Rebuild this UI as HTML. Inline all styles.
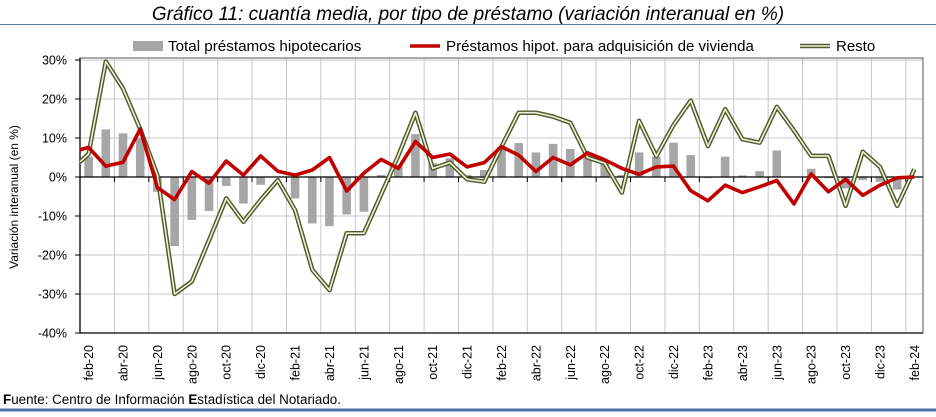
<!DOCTYPE html>
<html><head><meta charset="utf-8">
<style>
html,body{margin:0;padding:0;background:#fff;}
body{width:936px;height:412px;overflow:hidden;font-family:"Liberation Sans",sans-serif;}
</style></head>
<body>
<svg id="c" width="936" height="412" xmlns="http://www.w3.org/2000/svg" font-family="Liberation Sans, sans-serif"></svg>
<script>
const red=[7.6,2.8,3.8,12.3,-2.7,-5.8,1.4,-1.6,4.1,0.5,5.4,1.5,0.5,1.8,5.0,-3.6,1.0,4.5,2.2,9.1,5.0,5.9,2.6,3.7,7.8,5.6,1.4,5.0,3.1,6.2,4.4,2.2,0.7,2.6,2.8,-3.5,-6.1,-2.1,-4.0,-2.5,-0.9,-6.9,0.8,-3.8,-0.6,-4.7,-2.1,-0.2,0];
const resto=[5.9,29.6,22.7,12.3,0.5,-30.0,-26.8,-16.2,-5.5,-11.5,-5.9,-0.8,-8.5,-23.8,-29.0,-14.4,-14.4,-4.5,5.5,16.5,2.2,3.7,-0.6,-1.2,7.8,16.5,16.5,15.5,13.9,5.0,3.5,-4.0,14.4,5.3,13.3,19.6,7.9,17.4,9.7,8.8,18.0,11.9,5.4,5.4,-7.4,6.5,2.6,-7.4,2.0];
const bars=[5.2,12.2,11.2,10,-3.8,-17.7,-11,-8.7,-2.3,-6.8,-2,0,-5.5,-11.9,-12.6,-9.6,-8.9,0.5,3.1,11.0,3.5,4.8,0.5,1.8,7.8,8.7,6.3,8.5,7.2,5.4,3.5,0.5,6.3,5.2,8.8,5.6,-0.3,5.2,0.4,1.5,6.8,0,2.1,-0.3,-2.9,-0.8,-1.2,-3.2,0];
const X0=80,X1=923,W=(X1-X0)/49;
const cx=i=>X0+W*(i+0.5), cy=v=>177-v*3.9;
let s='';
s+='<text x="468" y="20" font-size="19" font-style="italic" text-anchor="middle" fill="#000">Gráfico 11: cuantía media, por tipo de préstamo (variación interanual en %)</text>';
s+='<line x1="0" y1="24.5" x2="936" y2="24.5" stroke="#5b7fa6" stroke-width="1"/>';
for(let v=-40;v<=30;v+=10){const y=cy(v);s+=`<line x1="${X0}" y1="${y}" x2="${X1}" y2="${y}" stroke="#c8c8c8" stroke-width="1"/>`;}
for(let k=2;k<49;k+=2){const x=X0+W*k;s+=`<line x1="${x}" y1="58" x2="${x}" y2="333" stroke="#c8c8c8" stroke-width="1"/>`;}
s+=`<rect x="${X0}" y="58" width="${X1-X0}" height="275" fill="none" stroke="#555" stroke-width="1"/>`;
bars.forEach((v,i)=>{const y=Math.min(cy(v),177),h=Math.abs(v*3.9);s+=`<rect x="${cx(i)-4.3}" y="${y}" width="8.6" height="${h}" fill="#a6a6a6"/>`;});
s+=`<line x1="${X0}" y1="177" x2="${X1}" y2="177" stroke="#000" stroke-width="1.3"/>`;
for(let k=0;k<=49;k+=2){const x=X0+W*k;s+=`<line x1="${x}" y1="177" x2="${x}" y2="182" stroke="#000" stroke-width="1"/>`;}
s+=`<line x1="${X0}" y1="58" x2="${X0}" y2="333" stroke="#000" stroke-width="1.3"/>`;
s+=`<line x1="${X0}" y1="333" x2="${X1}" y2="333" stroke="#000" stroke-width="1.3"/>`;
for(let v=-40;v<=30;v+=10){const y=cy(v);s+=`<line x1="75" y1="${y}" x2="${X0}" y2="${y}" stroke="#000"/>`;
s+=`<text x="67" y="${y+4.5}" font-size="12.5" text-anchor="end">${v}%</text>`;}
const pts=a=>a.map((v,i)=>`${cx(i).toFixed(1)},${cy(v).toFixed(1)}`).join(' ');
const rp=`${X0},${cy(7.0)} `+pts(red);
const sp=`${X0},${cy(3.9)} `+pts(resto);
s+=`<polyline points="${sp}" fill="none" stroke="#4f5b2c" stroke-width="4.5" stroke-linejoin="round"/>`;
s+=`<polyline points="${sp}" fill="none" stroke="#eef2d8" stroke-width="1.6" stroke-linejoin="round"/>`;
s+=`<polyline points="${rp}" fill="none" stroke="#c00000" stroke-width="3.6" stroke-linejoin="round"/>`;
const m=['feb','abr','jun','ago','oct','dic'];
for(let i=0;i<49;i+=2){const yr=20+Math.floor((i+1)/12);const lab=m[(i/2)%6]+'-'+yr;const x=cx(i)+4.5;
s+=`<text transform="translate(${x},345) rotate(-90)" font-size="12.5" text-anchor="end">${lab}</text>`;}
s+='<text transform="translate(18,197) rotate(-90)" font-size="12" text-anchor="middle">Variación interanual (en %)</text>';
s+='<rect x="133" y="41" width="30" height="10" fill="#a6a6a6"/>';
s+='<text x="168" y="51" font-size="15.2">Total préstamos hipotecarios</text>';
s+='<line x1="410" y1="46" x2="440" y2="46" stroke="#c00000" stroke-width="3.6"/>';
s+='<text x="446" y="51" font-size="15.1">Préstamos hipot. para adquisición de vivienda</text>';
s+='<line x1="800" y1="46" x2="830" y2="46" stroke="#4f5b2c" stroke-width="4.5"/><line x1="800" y1="46" x2="830" y2="46" stroke="#eef2d8" stroke-width="1.6"/>';
s+='<text x="836" y="51" font-size="15">Resto</text>';
s+='<text x="3" y="404" font-size="13.4"><tspan font-weight="bold">F</tspan>uente: Centro de Información <tspan font-weight="bold">E</tspan>stadística del Notariado.</text>';
s+='<line x1="0" y1="410" x2="936" y2="410" stroke="#4a72a8" stroke-width="3"/>';
document.getElementById('c').innerHTML=s;
</script>
</body></html>
